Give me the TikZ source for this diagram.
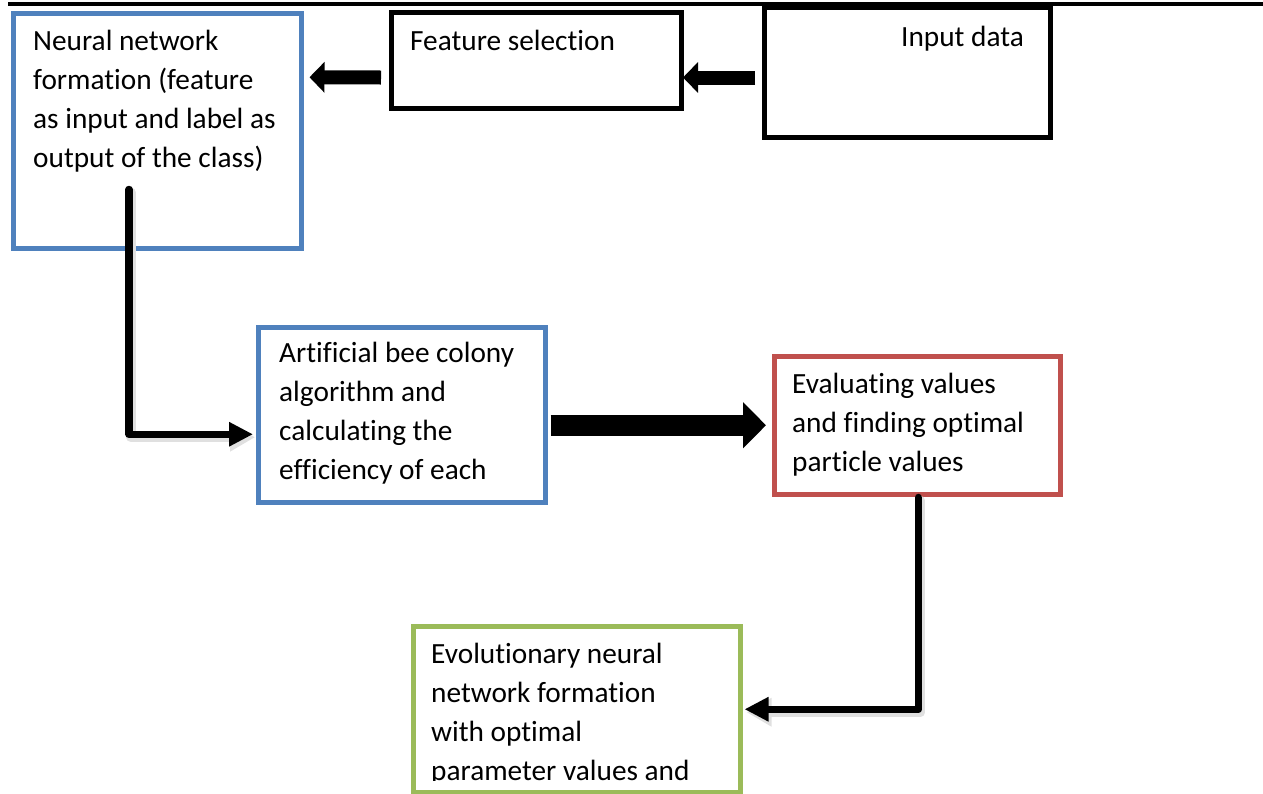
\documentclass[tikz,border=0pt]{standalone}
\usepackage{fontspec}
\setmainfont{Carlito}[Ligatures=NoCommon]
\usetikzlibrary{arrows.meta,calc}
\definecolor{boxblue}{HTML}{4F81BD}
\definecolor{boxred}{HTML}{C0504D}
\definecolor{boxgreen}{HTML}{9BBB59}
\begin{document}
\begin{tikzpicture}[x=1pt, y=-1pt, font=\fontsize{29.3}{38.8}\selectfont,
    box/.style={draw=#1, line width=4.5pt, anchor=north west, inner sep=0pt},
    txt/.style={anchor=base west, align=left, inner sep=0pt},
    elbow/.style={line width=7.5pt, line cap=round, line join=round,
        -{Triangle[length=24pt, width=23pt]}},
    elbowshadow/.style={draw=black!12, line width=9.5pt, line cap=round,
        line join=round, -{Triangle[length=25pt, width=27pt]}}]
    \useasboundingbox (0,0) rectangle (1263,793);

    % rule along the top
    \draw[line width=4pt] (8,4) -- (1263,4);

    % boxes
    \node[box=black, line width=5pt, minimum width=286pt, minimum height=130pt]
    (input) at (762,5) {};
    \node[box=black, line width=5pt, minimum width=290pt, minimum height=96pt]
    (feature) at (389,10) {};
    \node[box=boxblue, minimum width=288pt, minimum height=235pt]
    (neural) at (11,11) {};
    \node[box=boxblue, minimum width=287pt, minimum height=175pt]
    (abc) at (256,325) {};
    \node[box=boxred, minimum width=286pt, minimum height=138pt]
    (evaluate) at (772,354) {};
    \node[box=boxgreen, minimum width=327pt, minimum height=166pt]
    (evolve) at (411,624) {};

    % texts (placed by the baseline of their last line)
    \node[txt] (inputtxt) at (901,46) {Input data};
    \node[txt] (featuretxt) at (410,50) {Feature selection};
    \node[txt] (neuraltxt) at (33,167) {Neural network\\formation (feature\\as input and label as\\output of the class)};
    \node[txt] (abctxt) at (279,479) {Artificial bee colony\\algorithm and\\calculating the\\efficiency of each};
    \node[txt] (evaluatetxt) at (792,471) {Evaluating values\\and finding optimal\\particle values};
    \begin{scope}
        \clip (evolve.north west) rectangle ($(evolve.south east)+(0,-14)$);
        \node[txt] (evolvetxt) at (431,780) {Evolutionary neural\\network formation\\with optimal\\parameter values and};
    \end{scope}

    % block arrows
    \draw[line width=14pt, -{Triangle[length=15pt, width=30pt]}]
    ($(input.west)+(-7,5)$) -- ($(feature.east)+(-1,17)$);
    \draw[line width=14pt, -{Triangle[length=15pt, width=30pt]}]
    ($(feature.west)+(-8,17)$) -- ($(neural.east)+(6,-53.5)$);
    \draw[line width=21pt, -{Triangle[length=23pt, width=45pt]}]
    ($(abc.east)+(3,10.5)$) -- ($(evaluate.west)+(-6,0)$);

    % elbow connectors
    \draw[elbowshadow] ($(neural.south west)+(120,-58)$) |- ($(abc.west)+(-1,22.5)$);
    \draw[elbow] ($(neural.south west)+(118,-61)$) |- ($(abc.west)+(-3,19.5)$);
    \draw[elbowshadow] ($(evaluate.south)+(3,4)$) |- ($(evolve.east)+(4,3)$);
    \draw[elbow] ($(evaluate.south)+(1,1)$) |- ($(evolve.east)+(2,0)$);
\end{tikzpicture}
\end{document}
